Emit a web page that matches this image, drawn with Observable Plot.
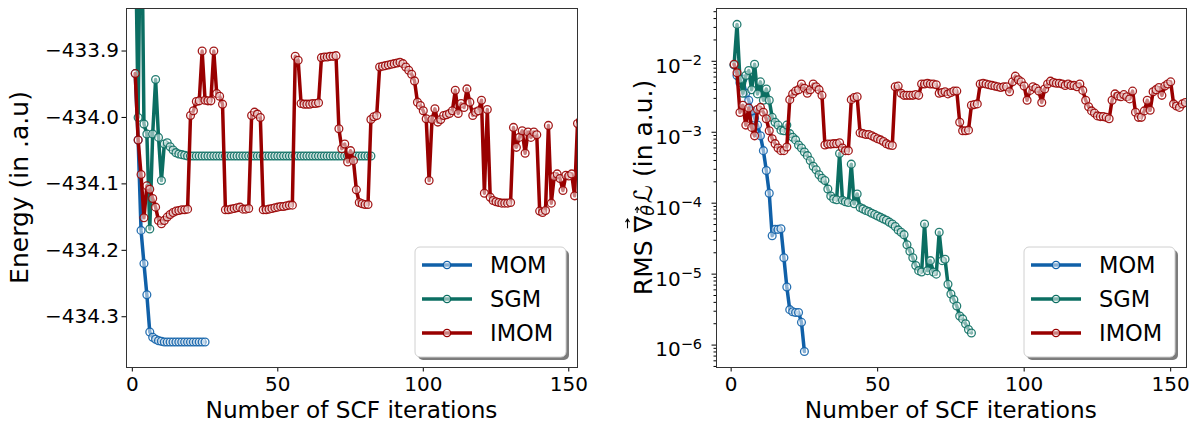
<!DOCTYPE html>
<html><head><meta charset="utf-8">
<script src="https://cdn.jsdelivr.net/npm/d3@7"></script>
<script src="https://cdn.jsdelivr.net/npm/@observablehq/plot@0.6"></script>
<style>
body{margin:0;background:#fff;font-family:"DejaVu Sans",sans-serif;}
#wrap{display:flex;width:1190px;height:423px;}
#wrap svg{display:block;}
</style></head><body><div id="wrap"></div>
<script>
const methods = ["MOM", "SGM", "IMOM"];
const colors = ["#1060a8", "#0b6e62", "#990000"];
const xTicks = [0, 50, 100, 150];
const energyTicks = [-434.3, -434.2, -434.1, -434.0, -433.9];
const rmsTicks = [1e-6, 1e-5, 1e-4, 1e-3, 1e-2];

const momEnergy = [-433.934,-434.034,-434.170,-434.220,-434.267,-434.323,-434.331,-434.334,-434.336,-434.337,
-434.338,-434.338,-434.338,-434.338,-434.338,-434.338,-434.338,-434.338,-434.338,-434.338,-434.338,-434.338,-434.338,-434.338,-434.338];

const sgmEnergy = [-433.70,-434.000,-433.60,-434.010,-434.025,-434.168,-434.025,-433.943,-434.030,-434.095,
-434.040,-434.038,-434.044,-434.049,-434.053,-434.055,-434.056,-434.057,-434.058,-434.058,
-434.058,-434.058,-434.058,-434.058,-434.058,-434.058,-434.058,-434.058,-434.058,-434.058,
-434.058,-434.058,-434.058,-434.058,-434.058,-434.058,-434.058,-434.058,-434.058,-434.058,
-434.058,-434.058,-434.058,-434.058,-434.058,-434.058,-434.058,-434.058,-434.058,-434.058,
-434.058,-434.058,-434.058,-434.058,-434.058,-434.058,-434.058,-434.058,-434.058,-434.058,
-434.058,-434.058,-434.058,-434.058,-434.058,-434.058,-434.058,-434.058,-434.058,-434.058,
-434.058,-434.058,-434.058,-434.058,-434.058,-434.058,-434.058,-434.058,-434.058,-434.058,
-434.058,-434.058];

const imomEnergy = [-433.934,-434.034,-434.086,-434.151,-434.103,-434.108,-434.122,-434.135,-434.155,-434.160,
-434.155,-434.150,-434.146,-434.143,-434.141,-434.140,-434.139,-434.139,-434.138,-433.997,
-433.990,-433.976,-433.975,-433.900,-433.974,-433.975,-433.975,-433.900,-433.964,-433.968,
-433.980,-434.139,-434.139,-434.138,-434.137,-434.136,-434.135,-434.138,-434.138,-434.137,
-433.997,-433.992,-433.995,-434.000,-434.139,-434.139,-434.138,-434.137,-434.136,-434.135,
-434.134,-434.134,-434.133,-434.132,-434.132,-433.908,-433.914,-433.979,-433.980,-433.980,
-433.980,-433.979,-433.979,-433.978,-433.910,-433.909,-433.909,-433.908,-433.908,-433.907,
-434.017,-434.047,-434.040,-434.067,-434.050,-434.065,-434.109,-434.128,-434.130,-434.131,
-434.131,-434.003,-433.999,-433.997,-433.924,-433.923,-433.922,-433.921,-433.920,-433.919,
-433.918,-433.917,-433.919,-433.924,-433.929,-433.935,-433.945,-433.977,-433.982,-433.990,
-434.002,-434.095,-434.003,-433.987,-434.007,-434.003,-433.997,-433.996,-433.994,-433.990,
-433.959,-433.994,-433.979,-433.985,-433.957,-433.977,-433.997,-433.992,-433.990,-433.974,
-434.114,-433.988,-434.120,-434.125,-434.127,-434.128,-434.129,-434.129,-434.129,-434.128,
-434.015,-434.045,-434.030,-434.020,-434.054,-434.022,-434.030,-434.022,-434.026,-434.141,
-434.143,-434.140,-434.012,-434.129,-434.089,-434.085,-434.092,-434.110,-434.087,-434.088,
-434.085,-434.118,-434.009,-434.005,-434.003];

const momRms = [8.9e-3,6.3e-3,5.0e-3,5.6e-3,3.55e-3,2.82e-3,2.0e-3,1.58e-3,1.26e-3,8.9e-4,
5.5e-4,2.88e-4,1.38e-4,3.47e-5,4.27e-5,4.27e-5,4.37e-5,1.7e-5,6.6e-6,3.16e-6,
2.95e-6,2.88e-6,2.88e-6,2.09e-6,8.1e-7];

const sgmRms = [8.9e-3,3.31e-2,5.6e-3,3.55e-3,6.3e-3,7.4e-3,3.98e-3,9.1e-3,3.47e-3,5.13e-3,
2.82e-3,4.07e-3,2.82e-3,1.62e-3,1.38e-3,1.26e-3,1.07e-3,1.05e-3,1.26e-3,9.55e-4,
8.5e-4,7.8e-4,6.6e-4,6.0e-4,5.25e-4,4.68e-4,3.98e-4,3.31e-4,2.95e-4,2.51e-4,
2.24e-4,2.09e-4,1.58e-4,1.26e-4,1.15e-4,1.12e-4,5.0e-4,1.1e-4,1.05e-4,1.02e-4,
3.55e-4,9.8e-5,1.35e-4,8.7e-5,8.3e-5,7.9e-5,7.6e-5,7.2e-5,6.9e-5,6.6e-5,
6.3e-5,6.0e-5,5.75e-5,5.4e-5,5.1e-5,4.7e-5,4.2e-5,3.9e-5,3.6e-5,2.6e-5,
2.1e-5,1.7e-5,1.32e-5,1.12e-5,1.07e-5,5.1e-5,1.12e-5,1.55e-5,1.07e-5,1.0e-5,
3.9e-5,1.55e-5,1.62e-5,7.2e-6,5.25e-6,4.37e-6,3.55e-6,2.57e-6,2.34e-6,2.0e-6,
1.66e-6,1.48e-6];

const imomRms = [9.1e-3,6.9e-3,1.9e-3,2.4e-3,1.26e-3,2.19e-3,1.17e-3,8.9e-4,2.09e-3,2.24e-3,
1.91e-3,1.55e-3,1.05e-3,8.1e-4,6.9e-4,6.0e-4,5.5e-4,5.5e-4,6.2e-4,2.88e-3,
3.47e-3,3.8e-3,3.98e-3,4.79e-3,4.17e-3,3.55e-3,3.98e-3,4.79e-3,4.37e-3,3.98e-3,
3.31e-3,6.6e-4,6.8e-4,6.8e-4,6.9e-4,6.9e-4,7.1e-4,6.0e-4,5.5e-4,5.5e-4,
2.88e-3,3.09e-3,3.16e-3,9.8e-4,9.55e-4,9.3e-4,9.3e-4,8.9e-4,8.5e-4,8.1e-4,
7.8e-4,7.4e-4,6.9e-4,6.6e-4,6.5e-4,4.37e-3,4.47e-3,3.55e-3,3.31e-3,3.31e-3,
3.31e-3,3.31e-3,3.39e-3,3.31e-3,4.79e-3,4.79e-3,4.9e-3,4.79e-3,4.79e-3,4.68e-3,
3.55e-3,3.63e-3,3.72e-3,3.47e-3,3.63e-3,3.8e-3,3.8e-3,1.38e-3,1.05e-3,1.05e-3,
1.07e-3,2.4e-3,2.45e-3,2.51e-3,4.79e-3,4.9e-3,4.79e-3,4.68e-3,4.57e-3,4.47e-3,
4.37e-3,4.27e-3,4.37e-3,4.37e-3,3.72e-3,5.13e-3,6.17e-3,5.5e-3,5.13e-3,4.47e-3,
2.82e-3,3.89e-3,4.37e-3,4.17e-3,3.8e-3,2.63e-3,4.07e-3,4.79e-3,5.25e-3,5.01e-3,
4.9e-3,4.9e-3,4.79e-3,4.57e-3,4.79e-3,4.57e-3,4.57e-3,4.37e-3,4.79e-3,3.89e-3,
2.82e-3,2.29e-3,2.0e-3,1.86e-3,1.7e-3,1.66e-3,1.66e-3,1.62e-3,1.55e-3,2.82e-3,
3.47e-3,3.24e-3,3.16e-3,3.39e-3,3.16e-3,2.95e-3,3.8e-3,1.91e-3,1.62e-3,1.62e-3,
2.0e-3,2.82e-3,2.04e-3,3.72e-3,3.98e-3,4.27e-3,3.31e-3,4.47e-3,4.79e-3,5.13e-3,
2.51e-3,2.34e-3,2.24e-3,2.51e-3,2.63e-3];

const toRows = (arr) => arr.map((v, i) => ({iter: i + 1, value: v}));
const energySeries = [momEnergy, sgmEnergy, imomEnergy].map(toRows);
const rmsSeries = [momRms, sgmRms, imomRms].map(toRows);

function seriesMarks(series) {
  const marks = [];
  series.forEach((rows, k) => {
    marks.push(Plot.line(rows, {x: "iter", y: "value", stroke: colors[k], strokeWidth: 3.5, clip: true}));
    marks.push(Plot.dot(rows, {x: "iter", y: "value", r: 3.9, stroke: colors[k], strokeWidth: 1.3, strokeOpacity: 0.9, fill: "white", fillOpacity: 0.5, clip: true}));
  });
  return marks;
}

const baseStyle = {fontFamily: "DejaVu Sans", fontSize: "20px", color: "#000", background: "transparent", overflow: "visible"};

const left = Plot.plot({
  width: 600, height: 423,
  marginLeft: 126, marginRight: 23, marginTop: 8, marginBottom: 56,
  x: {domain: [-2, 153]},
  y: {domain: [-434.3764, -433.836]},
  style: baseStyle,
  marks: [
    ...seriesMarks(energySeries),
    Plot.axisX({ticks: xTicks, tickSize: 4.5, tickPadding: 5, fontSize: 20, label: null}),
    Plot.axisY({ticks: energyTicks, tickFormat: d3.format(".1f"), tickSize: 4.5, tickPadding: 3, fontSize: 20, label: null}),
    Plot.frame({stroke: "#333", strokeWidth: 1})
  ]
});

const minorTicks = [];
for (let e = -7; e <= -1; e++) for (let k = 2; k <= 9; k++) {
  const v = k * Math.pow(10, e);
  if (v > Math.pow(10, -6.316) && v < Math.pow(10, -1.256)) minorTicks.push(v);
}

const right = Plot.plot({
  width: 590, height: 423,
  marginLeft: 116, marginRight: 4, marginTop: 8, marginBottom: 56,
  x: {domain: [-5, 155.4]},
  y: {type: "log", domain: [Math.pow(10, -6.316), Math.pow(10, -1.256)]},
  style: baseStyle,
  marks: [
    ...seriesMarks(rmsSeries),
    Plot.axisX({ticks: xTicks, tickSize: 4.5, tickPadding: 5, fontSize: 20, label: null}),
    Plot.axisY({ticks: minorTicks, tickSize: 2.5, tickFormat: () => "", label: null}),
    Plot.axisY({ticks: rmsTicks, tickFormat: d => "\u2212" + Math.round(-Math.log10(d)), tickSize: 4.5, tickPadding: 10, fontSize: 20, label: null}),
    Plot.frame({stroke: "#333", strokeWidth: 1})
  ]
});

document.getElementById("wrap").append(left, right);

// superscript exponents on log tick labels
d3.select(right).selectAll('g[aria-label="y-axis tick label"] text').each(function () {
  const t = d3.select(this);
  const e = t.text();
  if (!e) return;
  t.text(null);
  t.attr("transform", (t.attr("transform") || "") + " translate(0,5)");
  t.append("tspan").text("10");
  t.append("tspan").attr("dy", "-0.55em").attr("font-size", "14.5px").text(e);
});

function addText(svg, x, y, txt, rotate, size) {
  const t = d3.select(svg).append("text")
    .attr("x", 0).attr("y", 0)
    .attr("transform", `translate(${x},${y})` + (rotate ? " rotate(-90)" : ""))
    .attr("text-anchor", "middle").attr("dominant-baseline", "central")
    .attr("font-family", "DejaVu Sans").attr("font-size", size + "px").attr("fill", "#000");
  if (txt) t.text(txt);
  return t;
}

addText(left, 351.5, 409, "Number of SCF iterations", false, 23.2);
addText(left, 19, 187.5, "Energy (in .a.u)", true, 25);
addText(right, 350.8, 409, "Number of SCF iterations", false, 23.2);

// right y label: RMS ∇⃗_θ⃗ ℒ (in a.u.), assembled from pieces in a rotated group
(function () {
  const fs = 25;
  const g = d3.select(right).append("g").attr("transform", "translate(43,187.5) rotate(-90)")
    .attr("font-family", "DejaVu Sans").attr("fill", "#000").attr("text-anchor", "start");
  const pieces = [
    {t: "RMS ", size: fs, dy: 0},
    {t: "\u2207", size: fs, dy: 0, arrow: true},
    {t: "\u03B8", size: fs * 0.7, dy: 5, italic: true, arrow: true},
    {t: "\u2112", size: fs, dy: 0, italic: true, gapBefore: 2},
    {t: " (in a.u.)", size: fs, dy: 0}
  ];
  let x = 0;
  pieces.forEach(p => {
    x += p.gapBefore || 0;
    const n = g.append("text").attr("x", x).attr("y", p.dy).attr("dominant-baseline", "central")
      .attr("font-size", p.size + "px").attr("font-style", p.italic ? "italic" : null).text(p.t);
    const w = n.node().getComputedTextLength();
    if (p.arrow) {
      const ay = p.dy - p.size * 0.62;
      const ax0 = x + w * 0.25, ax1 = x + w * 0.8;
      g.append("line").attr("x1", ax0).attr("x2", ax1).attr("y1", ay).attr("y2", ay).attr("stroke", "#000").attr("stroke-width", 1.1);
      g.append("path").attr("d", `M${ax1 - 3},${ay - 2} L${ax1},${ay} L${ax1 - 3},${ay + 2}`).attr("fill", "none").attr("stroke", "#000").attr("stroke-width", 1.1);
    }
    x += w;
  });
  const total = x;
  g.selectAll("text, line, path").attr("transform", `translate(${-total / 2},0)`);
})();

function addLegend(svg, x0, y0) {
  const g = d3.select(svg).append("g").attr("transform", `translate(${x0},${y0})`).attr("text-anchor", "start");
  g.append("rect").attr("x", 3).attr("y", 3).attr("width", 151).attr("height", 110).attr("rx", 5).attr("fill", "#444").attr("fill-opacity", 0.7);
  g.append("rect").attr("x", 0).attr("y", 0).attr("width", 151).attr("height", 110).attr("rx", 5).attr("fill", "#fff").attr("stroke", "#d0d0d0");
  methods.forEach((m, k) => {
    const cy = 18 + k * 34;
    g.append("line").attr("x1", 7).attr("x2", 57).attr("y1", cy).attr("y2", cy).attr("stroke", colors[k]).attr("stroke-width", 3.5);
    g.append("circle").attr("cx", 32).attr("cy", cy).attr("r", 3.7).attr("fill", "white").attr("fill-opacity", 0.5).attr("stroke", colors[k]).attr("stroke-width", 1.3);
    g.append("text").attr("x", 75).attr("y", cy).attr("text-anchor", "start").attr("dominant-baseline", "central").attr("font-family", "DejaVu Sans").attr("font-size", "22.5px").attr("fill", "#000").text(m);
  });
}
addLegend(left, 415, 247);
addLegend(right, 424, 247);
</script></body></html>
